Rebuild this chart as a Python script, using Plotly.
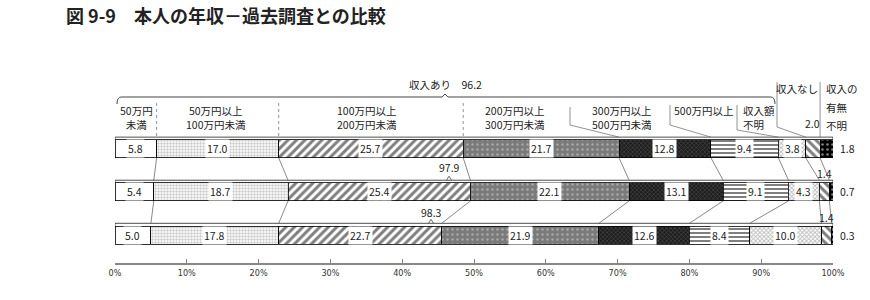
import plotly.graph_objects as go

# ---------------- data ----------------
rows = ["令和2年度", "平成27年度", "平成22年度"]
counts = ["（4,711人）", "（4,390人）", "（4,767人）"]
categories = ["50万円未満", "50万円以上100万円未満", "100万円以上200万円未満",
              "200万円以上300万円未満", "300万円以上500万円未満", "500万円以上",
              "収入額不明", "収入なし", "収入の有無不明"]
v_lt50 = [5.8, 5.4, 5.0]
v_50_100 = [17.0, 18.7, 17.8]
v_100_200 = [25.7, 25.4, 22.7]
v_200_300 = [21.7, 22.1, 21.9]
v_300_500 = [12.8, 13.1, 12.6]
v_500plus = [9.4, 9.1, 8.4]
v_unknown_amt = [3.8, 4.3, 10.0]
v_none = [2.0, 1.4, 1.4]
v_unknown = [1.8, 0.7, 0.3]
income_total = [96.2, 97.9, 98.3]
tick_vals = [0, 10, 20, 30, 40, 50, 60, 70, 80, 90, 100]
tick_labels = ["0%", "10%", "20%", "30%", "40%", "50%", "60%", "70%", "80%", "90%", "100%"]

series = [v_lt50, v_50_100, v_100_200, v_200_300, v_300_500, v_500plus,
          v_unknown_amt, v_none, v_unknown]

# ---------------- layout helpers ----------------
W, H = 870, 300
ML, MR, MT, MB = 115, 37, 67, 37
YR = [-0.65, 3.9]
PXU = (H - MT - MB) / (YR[1] - YR[0])     # pixels per y unit
PXX = (W - ML - MR) / 100.0                # pixels per percent
row_y = [2, 1, 0]
BAR_W = 0.418
FONT = "Noto Sans CJK JP, Noto Sans, sans-serif"
TXT = "#222222"


def yv(py):
    return YR[1] - (py - MT) / PXU


def xp(px):
    return (px - ML) / PXX


styles = [
    dict(color="white"),
    dict(color="#dddddd", pattern=dict(shape=".", fgcolor="#999999", bgcolor="white", size=3, solidity=0.5)),
    dict(color="white", pattern=dict(shape="/", fgcolor="black", bgcolor="white", size=6, solidity=0.5)),
    dict(color="#7a7a7a", pattern=dict(shape=".", fgcolor="#d8d8d8", bgcolor="#7a7a7a", size=5, solidity=0.18)),
    dict(color="#222222", pattern=dict(shape="x", fgcolor="#8a8a8a", bgcolor="#1e1e1e", size=3, solidity=0.3)),
    dict(color="white", pattern=dict(shape="-", fgcolor="black", bgcolor="white", size=4, solidity=0.5)),
    dict(color="#aaaaaa", pattern=dict(shape="x", fgcolor="#777777", bgcolor="white", size=3, solidity=0.5)),
    dict(color="white", pattern=dict(shape="\\", fgcolor="black", bgcolor="white", size=6, solidity=0.5)),
    dict(color="black", pattern=dict(shape=".", fgcolor="white", bgcolor="black", size=5, solidity=0.22)),
]

fig = go.Figure()
for name, vals, st in zip(categories, series, styles):
    fig.add_trace(go.Bar(
        name=name, orientation="h", x=vals, y=row_y, width=BAR_W,
        marker=dict(line=dict(color="black", width=0.8), **st),
        hoverinfo="x+name", showlegend=False,
    ))

# cumulative boundaries per row
cums = []
for r in range(3):
    c = [0.0]
    for s in series:
        c.append(c[-1] + s[r])
    cums.append(c)

shapes = []
ann = []
top_off = BAR_W / 2
face = 2.7 / PXU

# top face of each bar (3-D look)
for r in range(3):
    shapes.append(dict(type="rect", xref="x", yref="y", x0=0, x1=100,
                       y0=row_y[r] + top_off - 0.05, y1=row_y[r] + top_off + face,
                       line=dict(color="black", width=0.7), fillcolor="white", layer="below"))

# leader lines between rows
for r in range(2):
    for k in range(1, 9):
        shapes.append(dict(type="line", xref="x", yref="y",
                           x0=cums[r][k], y0=row_y[r] - top_off,
                           x1=cums[r + 1][k], y1=row_y[r + 1] + top_off + face,
                           line=dict(color="#555555", width=0.7)))

# header divider lines
header_div = [(None, 103, None), (None, 103, None), (None, 103, None),
              (xp(570), 107, 125), (xp(670), 105, 125), (xp(737), 105, 130),
              (xp(777), 82, 127), (None, 82, None)]
row1_top = row_y[0] + top_off + face
for k, (hx, ytop, ybend) in enumerate(header_div, start=1):
    cx = cums[0][k]
    if hx is None:
        shapes.append(dict(type="line", xref="x", yref="y", x0=cx, x1=cx,
                           y0=yv(ytop), y1=row1_top,
                           line=dict(color="#666666", width=0.7, dash="dot" if k <= 3 else "solid")))
    else:
        shapes.append(dict(type="path", xref="x", yref="y",
                           path=f"M {hx},{yv(ytop)} L {hx},{yv(ybend)} L {cx},{row1_top}",
                           line=dict(color="#666666", width=0.7)))

# brace for 収入あり
by = yv(97)
bl, br, bp = xp(117), xp(775), xp(445)
shapes.append(dict(type="path", xref="x", yref="y",
                   path=(f"M {bl},{yv(104)} Q {bl},{by} {bl + 0.6},{by} L {bp - 0.4},{by} "
                         f"L {bp},{yv(94)} L {bp + 0.4},{by} L {br - 0.6},{by} Q {br},{by} {br},{yv(104)}"),
                   line=dict(color="#444444", width=1)))
ann.append(dict(x=bp, y=yv(84), xref="x", yref="y", text=f"収入あり　{income_total[0]:.1f}",
                showarrow=False, font=dict(size=10.5, color=TXT, family=FONT)))

# 収入あり totals above rows 2 and 3 with a small caret
tot_pos = [None, (xp(449), 167), (xp(431), 212)]
for r in (1, 2):
    tx, ty = tot_pos[r]
    ann.append(dict(x=tx, y=yv(ty), xref="x", yref="y", text=f"{income_total[r]:.1f}",
                    showarrow=False, font=dict(size=10.5, color=TXT, family=FONT)))
    ct = row_y[r] + top_off + face
    shapes.append(dict(type="path", xref="x", yref="y",
                       path=f"M {tx - 0.35},{ct} L {tx},{ct + 4 / PXU} L {tx + 0.35},{ct}",
                       line=dict(color="#444444", width=0.8)))

# headers
hdr_font = dict(size=10.5, color=TXT, family=FONT)
headers = [
    ("50万円<br>未満", xp(136), 117, "center"),
    ("50万円以上<br>100万円未満", xp(216), 117, "center"),
    ("100万円以上<br>200万円未満", xp(367), 117, "center"),
    ("200万円以上<br>300万円未満", xp(515), 117, "center"),
    ("300万円以上<br>500万円未満", xp(622), 117, "center"),
    ("500万円以上", xp(703), 110, "center"),
    ("収入額<br>不明", xp(741), 117, "left"),
    ("収入なし", xp(797), 88, "center"),
    ("収入の", xp(824), 88, "left"),
    ("有無", xp(824), 107, "left"),
    ("不明", xp(824), 125, "left"),
]
for text, hx, hy, al in headers:
    ann.append(dict(x=hx, y=yv(hy), xref="x", yref="y", text=text, showarrow=False,
                    align=al, xanchor="left" if al == "left" else "center",
                    font=hdr_font))

# value labels
val_font = dict(size=10.5, color=TXT, family=FONT)
none_label_py = [123, 173, 217]
for r in range(3):
    for k in range(7):
        v = series[k][r]
        ann.append(dict(x=cums[r][k] + v / 2, y=row_y[r], xref="x", yref="y",
                        text=f"{v:.1f}", showarrow=False, bgcolor="white", borderpad=1,
                        font=val_font))
    # 収入なし (above)
    v = series[7][r]
    ann.append(dict(x=cums[r][7] + v / 2, y=yv(none_label_py[r]), xref="x", yref="y",
                    text=f"{v:.1f}", showarrow=False, font=val_font))
    # 収入の有無不明 (right side)
    v = series[8][r]
    ann.append(dict(x=100, y=row_y[r], xref="x", yref="y", xanchor="left", xshift=5,
                    text=f"{v:.1f}", showarrow=False, font=val_font))

# row labels
for r in range(3):
    ann.append(dict(x=xp(81), y=row_y[r], xref="x", yref="y",
                    text=f"{rows[r]}<br>{counts[r]}", showarrow=False, align="center",
                    font=dict(size=9.5, color=TXT, family=FONT)))

fig.update_layout(
    width=W, height=H, barmode="stack",
    margin=dict(l=ML, r=MR, t=MT, b=MB),
    paper_bgcolor="white", plot_bgcolor="white",
    title=dict(text="図 9-9　本人の年収－過去調査との比較", x=66 / W, xanchor="left",
               y=1 - 17 / H, yanchor="middle", xref="container",
               font=dict(size=18, color="#222222", family=FONT, weight="bold")),
    xaxis=dict(range=[0, 100], tickvals=tick_vals, ticktext=tick_labels, ticks="inside",
               ticklen=4, tickcolor="#888888", showline=True, linecolor="#888888", linewidth=1.5,
               showgrid=False, zeroline=False,
               tickfont=dict(size=9, color="#333333", family="Liberation Sans Narrow, DejaVu Sans Condensed, sans-serif")),
    yaxis=dict(range=YR, visible=False, showgrid=False, zeroline=False),
    shapes=shapes, annotations=ann, font=dict(family=FONT),
)

fig.write_html("out.html")
